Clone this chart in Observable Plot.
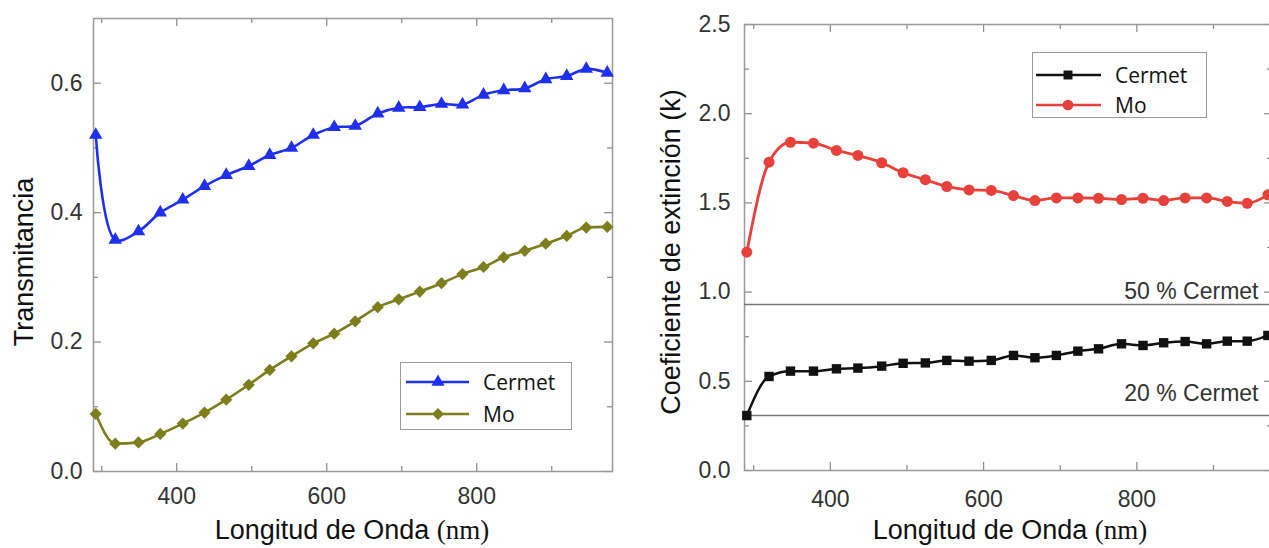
<!DOCTYPE html>
<html>
<head>
<meta charset="utf-8">
<script src="https://cdn.jsdelivr.net/npm/d3@7"></script>
<script src="https://cdn.jsdelivr.net/npm/@observablehq/plot@0.6"></script>
<style>
html,body{margin:0;padding:0;background:#fff;overflow:hidden;width:1269px;height:548px;}
#root{position:relative;width:1269px;height:548px;overflow:hidden;font-family:"Liberation Sans",Arial,sans-serif;}
.panel{position:absolute;top:0;}
.title{position:absolute;font-size:27px;line-height:1;color:#111;white-space:nowrap;transform:translate(-50%,-50%);}
.title.rot{transform:translate(-50%,-50%) rotate(-90deg);}
.serif{font-family:"Liberation Serif","DejaVu Serif",serif;}
.legend{position:absolute;box-sizing:border-box;border:1.5px solid #999;background:#fff;}
.legend svg{position:absolute;left:0;top:0;overflow:visible;}
.legend .lab{position:absolute;font-family:"Open Sans","Noto Sans",sans-serif;font-size:21px;line-height:1;color:#111;transform:translateY(-50%);}
</style>
</head>
<body>
<div id="root"></div>
<script>
// ---------- Data: left panel (Transmitancia) ----------
const wavelengthT = [292,318,349,378,408,437,466,496,524,553,582,610,638,668,696,724,753,781,809,836,864,892,920,946,974];
const cermetT = [0.520,0.358,0.371,0.400,0.420,0.441,0.458,0.472,0.489,0.500,0.520,0.532,0.534,0.553,0.562,0.563,0.568,0.567,0.582,0.589,0.592,0.606,0.611,0.622,0.616];
const moT = [0.089,0.043,0.045,0.058,0.074,0.091,0.111,0.134,0.157,0.178,0.198,0.213,0.232,0.254,0.266,0.278,0.291,0.305,0.316,0.331,0.341,0.352,0.364,0.377,0.378];

// ---------- Data: right panel (Coeficiente de extinción) ----------
const wavelengthK = [291,320,348,378,408,436,467,495,524,552,581,610,639,667,695,723,750,780,808,835,863,891,918,944,971];
const cermetK = [0.308,0.527,0.557,0.557,0.570,0.574,0.585,0.601,0.603,0.617,0.613,0.617,0.645,0.632,0.645,0.669,0.682,0.710,0.701,0.716,0.723,0.710,0.725,0.725,0.757];
const moK = [1.224,1.728,1.840,1.835,1.794,1.766,1.725,1.669,1.630,1.592,1.573,1.570,1.541,1.513,1.528,1.528,1.526,1.519,1.526,1.513,1.528,1.528,1.508,1.498,1.545];

// Reference levels (right panel)
const refLevels = [0.93, 0.308];
const refLabels = ["50 % Cermet", "20 % Cermet"];
const refLabelAt = [1.0, 0.43];

// ---------- Ticks / labels ----------
const xMajorT = [400, 600, 800];
const xMinorT = [300, 500, 700, 900];
const yMajorT = [0, 0.2, 0.4, 0.6];
const yMinorT = [0.1, 0.3, 0.5];
const xMajorK = [400, 600, 800];
const xMinorK = [300, 500, 700, 900];
const yMajorK = [0, 0.5, 1.0, 1.5, 2.0, 2.5];
const yMinorK = [0.25, 0.75, 1.25, 1.75, 2.25];

const seriesNames = ["Cermet", "Mo"];
const xTitle = "Longitud de Onda ";
const xUnit = "(nm)";
const yTitleT = "Transmitancia";
const yTitleK = "Coeficiente de extinción (k)";

const colors = {cermetT: "#1f2ff0", moT: "#7d7d1c", cermetK: "#111111", moK: "#e8403a"};
const FONT = "'Liberation Sans', Arial, Helvetica, sans-serif";

const root = document.getElementById("root");
const fmt = d3.format(".1f");

function frameTicks(xMaj, xMin, yMaj, yMin, W, H) {
  const st = {stroke: "#888", strokeWidth: 1.2};
  return [
    Plot.ruleX(xMaj, {...st, insetTop: H - 8}),
    Plot.ruleX(xMaj, {...st, insetBottom: H - 8}),
    Plot.ruleX(xMin, {...st, insetTop: H - 5}),
    Plot.ruleX(xMin, {...st, insetBottom: H - 5}),
    Plot.ruleY(yMaj, {...st, insetRight: W - 8}),
    Plot.ruleY(yMaj, {...st, insetLeft: W - 8}),
    Plot.ruleY(yMin, {...st, insetRight: W - 5}),
    Plot.ruleY(yMin, {...st, insetLeft: W - 5})
  ];
}

function rows(ws, vs) { return ws.map((w, i) => ({w, v: vs[i]})); }

// ---------- Left plot ----------
{
  const width = 640, height = 548, ml = 93, mr = 28, mt = 18, mb = 77;
  const W = width - ml - mr, H = height - mt - mb;
  const c = rows(wavelengthT, cermetT), m = rows(wavelengthT, moT);
  const svg = Plot.plot({
    width, height, marginLeft: ml, marginRight: mr, marginTop: mt, marginBottom: mb,
    style: {fontFamily: FONT, fontSize: "23px", color: "#333", background: "transparent"},
    x: {domain: [289, 981]},
    y: {domain: [0, 0.7]},
    marks: [
      ...frameTicks(xMajorT, xMinorT, yMajorT, yMinorT, W, H),
      Plot.frame({stroke: "#999", strokeWidth: 1.5}),
      Plot.axisX(xMajorT, {tickSize: 0, tickPadding: 16, label: null, fontSize: 23, fontFamily: FONT}),
      Plot.axisY(yMajorT, {tickSize: 0, tickPadding: 11, label: null, tickFormat: fmt, fontSize: 23, fontFamily: FONT}),
      Plot.line(c, {x: "w", y: "v", stroke: colors.cermetT, strokeWidth: 2.6, curve: "catmull-rom"}),
      Plot.dot(c, {x: "w", y: "v", symbol: "triangle", r: 5, fill: colors.cermetT, stroke: "none"}),
      Plot.line(m, {x: "w", y: "v", stroke: colors.moT, strokeWidth: 2.6, curve: "monotone-x"}),
      Plot.dot(m, {x: "w", y: "v", symbol: "diamond2", r: 5.5, fill: colors.moT, stroke: "none"})
    ]
  });
  svg.classList.add("panel");
  svg.style.left = "0px";
  root.appendChild(svg);
}

// ---------- Right plot ----------
{
  const width = 650, height = 548, ml = 110, mr = 12, mt = 24, mb = 78;
  const W = width - ml - mr, H = height - mt - mb;
  const c = rows(wavelengthK, cermetK), m = rows(wavelengthK, moK);
  const refs = refLevels.map((k, i) => ({k, label: refLabels[i], at: refLabelAt[i]}));
  const svg = Plot.plot({
    width, height, marginLeft: ml, marginRight: mr, marginTop: mt, marginBottom: mb,
    style: {fontFamily: FONT, fontSize: "23px", color: "#333", background: "transparent", overflow: "visible"},
    x: {domain: [288, 977]},
    y: {domain: [0, 2.5]},
    marks: [
      ...frameTicks(xMajorK, xMinorK, yMajorK, yMinorK, W, H),
      Plot.frame({stroke: "#999", strokeWidth: 1.5}),
      Plot.ruleY(refs, {y: "k", stroke: "#777", strokeWidth: 1.5}),
      Plot.text(refs, {y: "at", text: "label", frameAnchor: "right", textAnchor: "end", dx: -14, fill: "#333", fontSize: 23, fontFamily: FONT}),
      Plot.axisX(xMajorK, {tickSize: 0, tickPadding: 20, label: null, fontSize: 23, fontFamily: FONT}),
      Plot.axisY(yMajorK, {tickSize: 0, tickPadding: 14, label: null, tickFormat: fmt, fontSize: 23, fontFamily: FONT}),
      Plot.line(m, {x: "w", y: "v", stroke: colors.moK, strokeWidth: 2.8, curve: "monotone-x"}),
      Plot.dot(m, {x: "w", y: "v", symbol: "circle", r: 5.5, fill: colors.moK, stroke: "none"}),
      Plot.line(c, {x: "w", y: "v", stroke: colors.cermetK, strokeWidth: 2.5, curve: "monotone-x"}),
      Plot.dot(c, {x: "w", y: "v", symbol: "square", r: 5.3, fill: colors.cermetK, stroke: "none"})
    ]
  });
  svg.classList.add("panel");
  svg.style.left = "634px";
  root.appendChild(svg);
}

// ---------- Axis titles (HTML text) ----------
function addTitle(html, x, y, rot) {
  const d = document.createElement("div");
  d.className = "title" + (rot ? " rot" : "");
  d.style.left = x + "px";
  d.style.top = y + "px";
  d.innerHTML = html;
  root.appendChild(d);
}
addTitle(xTitle + '<span class="serif">' + xUnit + '</span>', 352, 530);
addTitle(xTitle + '<span class="serif">' + xUnit + '</span>', 1010, 530);
addTitle(yTitleT, 24, 262, true);
addTitle(yTitleK, 671, 252, true);

// ---------- Legends ----------
function addLegend(box, items) {
  const d = document.createElement("div");
  d.className = "legend";
  Object.assign(d.style, {left: box.left + "px", top: box.top + "px", width: box.w + "px", height: box.h + "px"});
  const s = d3.create("svg").attr("width", box.w).attr("height", box.h);
  items.forEach(it => {
    s.append("line").attr("x1", box.x1).attr("x2", box.x2).attr("y1", it.y).attr("y2", it.y)
      .attr("stroke", it.color).attr("stroke-width", 2.6);
    s.append("path").attr("transform", `translate(${box.mx},${it.y})`)
      .attr("d", d3.symbol(it.symbol, it.size)()).attr("fill", it.color);
    const l = document.createElement("div");
    l.className = "lab";
    l.style.left = box.tx + "px";
    l.style.top = it.y + "px";
    l.textContent = it.name;
    d.appendChild(l);
  });
  d.appendChild(s.node());
  root.appendChild(d);
}
addLegend({left: 400, top: 362, w: 172, h: 68, x1: 5, x2: 68, mx: 37, tx: 82}, [
  {name: seriesNames[0], y: 19, color: colors.cermetT, symbol: d3.symbolTriangle, size: 75},
  {name: seriesNames[1], y: 51, color: colors.moT, symbol: d3.symbolDiamond2, size: 90}
]);
addLegend({left: 1032, top: 52, w: 175, h: 66, x1: 3, x2: 68, mx: 35, tx: 82}, [
  {name: seriesNames[0], y: 22, color: colors.cermetK, symbol: d3.symbolSquare, size: 80},
  {name: seriesNames[1], y: 52, color: colors.moK, symbol: d3.symbolCircle, size: 90}
]);
</script>
</body>
</html>
